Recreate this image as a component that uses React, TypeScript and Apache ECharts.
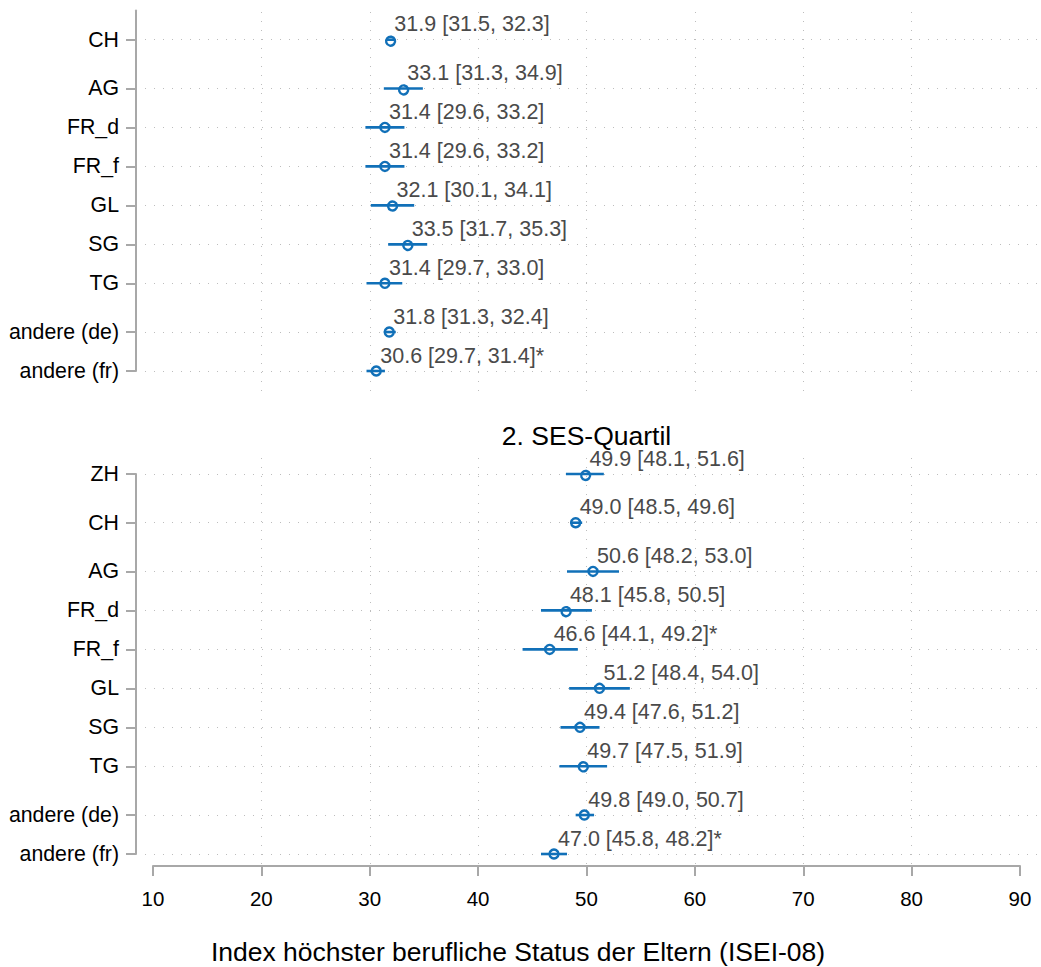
import React, { useEffect, useRef } from "react";
import * as echarts from "echarts";

// Regions in display order; the group id adds a small gap between blocks of rows.
const regions = ["ZH", "CH", "AG", "FR_d", "FR_f", "GL", "SG", "TG", "andere (de)", "andere (fr)"];
const regionGroup = [0, 1, 2, 2, 2, 2, 2, 2, 3, 3];

// 1. SES-Quartil (ZH not shown)
const q1Mean = [null, 31.9, 33.1, 31.4, 31.4, 32.1, 33.5, 31.4, 31.8, 30.6];
const q1Lower = [null, 31.5, 31.3, 29.6, 29.6, 30.1, 31.7, 29.7, 31.3, 29.7];
const q1Upper = [null, 32.3, 34.9, 33.2, 33.2, 34.1, 35.3, 33.0, 32.4, 31.4];
const q1Sig = [false, false, false, false, false, false, false, false, false, true];

// 2. SES-Quartil
const q2Mean = [49.9, 49.0, 50.6, 48.1, 46.6, 51.2, 49.4, 49.7, 49.8, 47.0];
const q2Lower = [48.1, 48.5, 48.2, 45.8, 44.1, 48.4, 47.6, 47.5, 49.0, 45.8];
const q2Upper = [51.6, 49.6, 53.0, 50.5, 49.2, 54.0, 51.2, 51.9, 50.7, 48.2];
const q2Sig = [false, false, false, false, true, false, false, false, false, true];

const xTicks = [10, 20, 30, 40, 50, 60, 70, 80, 90];
const panelTitle = "2. SES-Quartil";
const xTitle = "Index höchster berufliche Status der Eltern (ISEI-08)";

const BLUE = "#1170b8";
const AXIS_GRAY = "#a8a8a8";
const GRID_GRAY = "#bdbdbd";
const FONT = "'Liberation Sans', Arial, Helvetica, sans-serif";

const rowPos = regions.map((_, i) => i + 0.25 * regionGroup[i]);
const fmt = (v: number) => v.toFixed(1);

function buildRows(mean: (number | null)[], lo: (number | null)[], hi: (number | null)[], sig: boolean[]) {
  const rows: { value: number[]; label: string; name: string }[] = [];
  mean.forEach((m, i) => {
    if (m == null) return;
    rows.push({
      name: regions[i],
      value: [m, lo[i] as number, hi[i] as number, rowPos[i]],
      label: `${fmt(m)} [${fmt(lo[i] as number)}, ${fmt(hi[i] as number)}]${sig[i] ? "*" : ""}`,
    });
  });
  return rows;
}

const q1Rows = buildRows(q1Mean, q1Lower, q1Upper, q1Sig);
const q2Rows = buildRows(q2Mean, q2Lower, q2Upper, q2Sig);

function labelAt(v: number) {
  const idx = rowPos.findIndex((p) => Math.abs(p - v) < 1e-6);
  return idx >= 0 ? regions[idx] : "";
}

// X range of the data grids: slightly wider than 10–90 so the dotted row lines
// start just right of the offset y axis and run to the page edge.
const X_MIN = 10;
const X_MAX = 90;
const PLOT_LEFT = 153;
const PLOT_RIGHT = 1020;
const unitPerPx = (X_MAX - X_MIN) / (PLOT_RIGHT - PLOT_LEFT);
const ROW_LEFT = 145;
const ROW_RIGHT = 1041;
const rowXMin = X_MIN - (PLOT_LEFT - ROW_LEFT) * unitPerPx;
const rowXMax = X_MAX + (ROW_RIGHT - PLOT_RIGHT) * unitPerPx;

function ciSeries(rows: ReturnType<typeof buildRows>, axisIndex: number) {
  return {
    type: "custom",
    xAxisIndex: axisIndex,
    yAxisIndex: axisIndex,
    clip: false,
    encode: { x: [0, 1, 2], y: 3 },
    data: rows.map((r) => ({ name: r.name, value: r.value })),
    renderItem: (params: any, api: any) => {
      const mean = api.value(0);
      const lo = api.value(1);
      const hi = api.value(2);
      const pos = api.value(3);
      const c = api.coord([mean, pos]);
      const l = api.coord([lo, pos]);
      const h = api.coord([hi, pos]);
      return {
        type: "group",
        children: [
          {
            type: "line",
            shape: { x1: l[0], y1: l[1], x2: h[0], y2: h[1] },
            style: { stroke: BLUE, lineWidth: 2.6 },
          },
          {
            type: "circle",
            shape: { cx: c[0], cy: c[1], r: 4.5 },
            style: { fill: "none", stroke: BLUE, lineWidth: 2.4 },
          },
          {
            type: "text",
            x: c[0] + 4,
            y: c[1] - 15.5,
            style: {
              text: rows[params.dataIndex].label,
              fill: "#4a4a4a",
              fontSize: 21.5,
              fontFamily: FONT,
              align: "left",
              verticalAlign: "middle",
            },
          },
        ],
      };
    },
  };
}

function rowAxis(gridIndex: number, min: number, values: number[]) {
  return {
    type: "value",
    gridIndex,
    inverse: true,
    min,
    max: rowPos[rowPos.length - 1],
    offset: 9,
    axisLine: { show: true, lineStyle: { color: AXIS_GRAY, width: 2 } },
    axisTick: {
      show: true,
      length: 10,
      customValues: values,
      lineStyle: { color: AXIS_GRAY, width: 2 },
    },
    axisLabel: {
      show: true,
      customValues: values,
      formatter: (v: number) => labelAt(v),
      margin: 17,
      color: "#000",
      fontSize: 21.3,
      fontFamily: FONT,
    },
    splitLine: {
      show: true,
      lineStyle: { color: GRID_GRAY, width: 1, type: [1, 8] },
    },
  };
}

const vGridSplit = {
  show: true,
  showMinLine: false,
  showMaxLine: false,
  lineStyle: { color: GRID_GRAY, width: 1, type: [1, 8] },
};

export default function App() {
  const ref = useRef<HTMLDivElement>(null);

  useEffect(() => {
    if (!ref.current) return;
    const chart = echarts.init(ref.current, undefined, { renderer: "svg" });

    const option = {
      animation: false,
      backgroundColor: "#fff",
      textStyle: { fontFamily: FONT },
      grid: [
        // top panel: vertical grid lines
        { left: PLOT_LEFT, right: 1041 - PLOT_RIGHT, top: 12, bottom: 967 - 392 },
        // top panel: rows
        { left: ROW_LEFT, right: 0, top: 10.5, height: 360.5 },
        // bottom panel: vertical grid lines + x axis
        { left: PLOT_LEFT, right: 1041 - PLOT_RIGHT, top: 458, bottom: 967 - 866 },
        // bottom panel: rows
        { left: ROW_LEFT, right: 0, top: 474, height: 380 },
      ],
      xAxis: [
        {
          type: "value",
          gridIndex: 0,
          min: X_MIN,
          max: X_MAX,
          interval: 10,
          axisLine: { show: false },
          axisTick: { show: false },
          axisLabel: { show: false },
          splitLine: vGridSplit,
        },
        { type: "value", gridIndex: 1, min: rowXMin, max: rowXMax, show: false },
        {
          type: "value",
          gridIndex: 2,
          min: X_MIN,
          max: X_MAX,
          interval: 10,
          offset: 8,
          axisLine: { show: true, lineStyle: { color: AXIS_GRAY, width: 2 } },
          axisTick: {
            show: true,
            length: 10,
            customValues: xTicks,
            lineStyle: { color: AXIS_GRAY, width: 2 },
          },
          axisLabel: {
            show: true,
            customValues: xTicks,
            margin: 14,
            color: "#000",
            fontSize: 20.5,
            fontFamily: FONT,
            showMinLabel: true,
            showMaxLabel: true,
          },
          splitLine: vGridSplit,
        },
        { type: "value", gridIndex: 3, min: rowXMin, max: rowXMax, show: false },
      ],
      yAxis: [
        { type: "value", gridIndex: 0, min: 0, max: 1, show: false },
        rowAxis(1, 0.5, q1Rows.map((r) => r.value[3])),
        { type: "value", gridIndex: 2, min: 0, max: 1, show: false },
        rowAxis(3, 0, q2Rows.map((r) => r.value[3])),
      ],
      graphic: [
        {
          type: "text",
          x: (PLOT_LEFT + PLOT_RIGHT) / 2,
          y: 436,
          style: {
            text: panelTitle,
            fill: "#000",
            fontSize: 26.5,
            fontFamily: FONT,
            align: "center",
            verticalAlign: "middle",
          },
        },
        {
          type: "text",
          x: 518,
          y: 952,
          style: {
            text: xTitle,
            fill: "#000",
            fontSize: 26.5,
            fontFamily: FONT,
            align: "center",
            verticalAlign: "middle",
          },
        },
      ],
      series: [ciSeries(q1Rows, 1), ciSeries(q2Rows, 3)],
    };

    chart.setOption(option as any);
    return () => chart.dispose();
  }, []);

  return (
    <div
      ref={ref}
      style={{ position: "absolute", left: 0, top: 0, width: 1041, height: 967 }}
    />
  );
}
